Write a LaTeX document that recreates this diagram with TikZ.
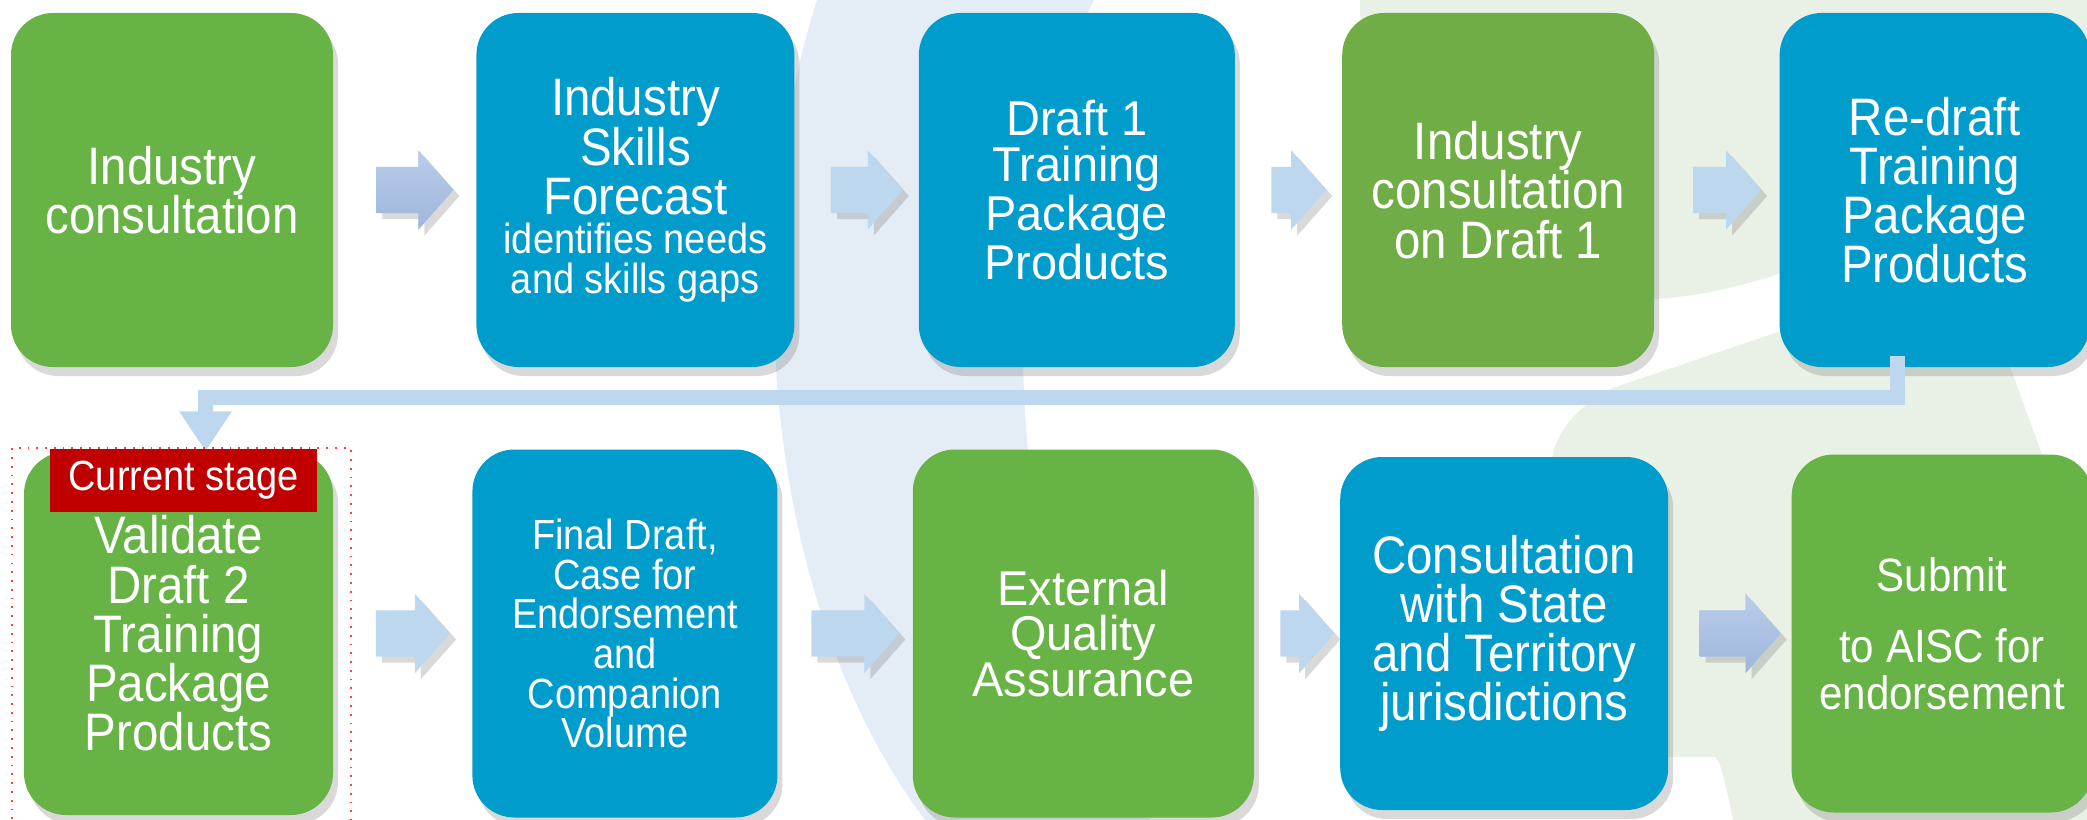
\documentclass[tikz,border=0pt]{standalone}
\usepackage{fontspec}
\usepackage{xcolor}
\usetikzlibrary{positioning}
\usetikzlibrary{shapes.arrows, shadows}
\usetikzlibrary{arrows.meta,calc}

\setmainfont{Liberation Sans}
\newfontfamily\etroite[FakeStretch=0.9]{Liberation Sans}
\newfontfamily\pleinefont[FakeStretch=0.96]{Liberation Sans}

\definecolor{bleuboite}{HTML}{009CCB}
\definecolor{vertboite}{HTML}{67B346}
\definecolor{vertolive}{HTML}{70AD47}
\definecolor{bleufleche}{HTML}{BDD7EE}
\definecolor{flechehaut}{HTML}{B9CDEB}
\definecolor{flechebas}{HTML}{9FB6DA}
\definecolor{rougeetape}{HTML}{C00000}
\definecolor{fondbleu}{HTML}{E4ECF5}
\definecolor{fondvert}{HTML}{E9F0E6}

\begin{document}
\begin{tikzpicture} [
  boite/.style = {rectangle, rounded corners = 0.42cm, text = white, align = center,
                  inner sep = 0pt, minimum height = 3.54cm,
                  drop shadow = {shadow xshift = 0.5mm, shadow yshift = -0.9mm, opacity = 0.3}},
  bleu/.style = {boite, fill = bleuboite},
  vert/.style = {boite, fill = vertboite},
  etroit/.style = {font = \etroite\fontsize{15}{14}\selectfont},
  petit/.style = {font = \etroite\fontsize{12}{11.3}\selectfont},
  pleine/.style = {font = \pleinefont\fontsize{13.9}{12.9}\selectfont},
  fleche/.style = {single arrow, fill = bleufleche, inner sep = 0pt, inner ysep = 0.225cm,
                   minimum width = 0.78cm, single arrow head extend = 0.165cm, single arrow tip angle = 97,
                   drop shadow = {shadow xshift = 0.6mm, shadow yshift = -0.6mm, opacity = 0.3}},
  degrade/.style = {top color = flechehaut, bottom color = flechebas},
  liaison/.style = {draw = bleufleche, line width = 0.15cm, -{Triangle[width = 0.5cm, length = 0.4cm]}},
  cadre/.style = {draw = red!75!white, dotted, line width = 0.5pt},
]

\useasboundingbox (0,0) rectangle (20.87,-8.20);

% fond
\fill[fondbleu] (8.17,0) .. controls (7.4,-2.4) and (7.6,-6.0) .. (9.25,-8.20)
  -- (11.5,-8.20) .. controls (10.0,-6.0) and (9.85,-2.2) .. (10.94,0) -- cycle;
\fill[fondvert] (13.6,0) -- (20.87,0) -- (20.87,-2.5) -- (17.9,-2.7)
  .. controls (17.2,-2.95) and (16.6,-3.02) .. (16.0,-3.0)
  .. controls (14.8,-2.95) and (13.6,-2.0) .. (13.6,0) -- cycle;
\fill[fondvert] (15.52,-4.57) .. controls (15.6,-4.2) and (15.9,-4.0) .. (16.13,-3.88)
  -- (17.9,-3.28) -- (20.0,-3.3) -- (20.10,-3.67) -- (20.43,-4.57) -- (20.87,-5.9)
  -- (20.87,-8.20) -- (17.33,-8.20) .. controls (17.25,-7.8) and (17.2,-7.6) .. (17.15,-7.57)
  -- (16.64,-7.57) -- (15.5,-7.6) -- cycle;

% premiere ligne
\node [vert, etroit, minimum width = 3.22cm] (b1) at (1.72,-1.90) {Industry\\consultation};
\node [bleu, etroit, minimum width = 3.18cm, right = 1.42cm of b1] (b2)
  {Industry\\Skills\\Forecast\\[-2.7pt]{\etroite\fontsize{12}{11.3}\selectfont identifies needs}\\[-2.7pt]{\etroite\fontsize{12}{11.3}\selectfont and skills gaps}};
\node [bleu, pleine, minimum width = 3.16cm, right = 1.23cm of b2] (b3) {Draft 1\\Training\\Package\\Products};
\node [boite, fill = vertolive, etroit, minimum width = 3.12cm, right = 1.06cm of b3] (b4) {Industry\\consultation\\on Draft 1};
\node [bleu, etroit, minimum width = 3.10cm, right = 1.24cm of b4] (b5) {Re-draft\\Training\\Package\\Products};

% deuxieme ligne
\node [vert, etroit, minimum width = 3.09cm, minimum height = 3.63cm] (b6) at (1.785,-6.335) {Validate\\Draft 2\\Training\\Package\\Products};
\node [bleu, petit, minimum width = 3.05cm, minimum height = 3.68cm, right = 1.38cm of b6] (b7)
  {Final Draft,\\Case for\\Endorsement\\and\\Companion\\Volume};
\node [vert, pleine, minimum width = 3.41cm, minimum height = 3.68cm, right = 1.34cm of b7] (b8) {External\\Quality\\Assurance};
\node [bleu, etroit, minimum width = 3.28cm, minimum height = 3.53cm, right = 0.85cm of b8] (b9)
  {Consultation\\with State\\and Territory\\jurisdictions};
\node [vert, font = \etroite\fontsize{13.3}{13.3}\selectfont, minimum width = 3.01cm, minimum height = 3.58cm, right = 1.22cm of b9] (b10)
  {Submit\\[7pt]to AISC for\\endorsement};

% fleches
\node [fleche, degrade, minimum height = 0.77cm] (f1) at ($(b1.east)!0.5!(b2.west)$) {};
\node [fleche, minimum height = 0.72cm] (f2) at ($(b2.east)!0.5!(b3.west)$) {};
\node [fleche, minimum height = 0.55cm] (f3) at ($(b3.east)!0.5!(b4.west)$) {};
\node [fleche, minimum height = 0.68cm] (f4) at ($(b4.east)!0.5!(b5.west)$) {};
\node [fleche, minimum height = 0.74cm] (f5) at ($(b6.east)!0.5!(b7.west)$) {};
\node [fleche, minimum height = 0.88cm] (f6) at ($(b7.east)!0.5!(b8.west)$) {};
\node [fleche, minimum height = 0.54cm] (f7) at ($(b8.east)!0.5!(b9.west)$) {};
\node [fleche, degrade, minimum height = 0.81cm] (f8) at ($(b9.east)!0.5!(b10.west)$) {};

% retour a la ligne
\draw [liaison] ([xshift = -0.37cm, yshift = 0.12cm]b5.south) -- ++(0,-0.42) -| ([xshift = 0.27cm]b6.north);

% etape en cours
\node [fill = rougeetape, text = white, petit, inner sep = 0pt, minimum width = 2.67cm, minimum height = 0.63cm,
       anchor = north] (etiq) at ([xshift = 0.05cm, yshift = 0.03cm]b6.north) {Current stage};
\draw [cadre] ([xshift = -0.11cm, yshift = 0.03cm]b6.north west) rectangle ([xshift = 0.17cm, yshift = -0.1cm]b6.south east);

\end{tikzpicture}
\end{document}
